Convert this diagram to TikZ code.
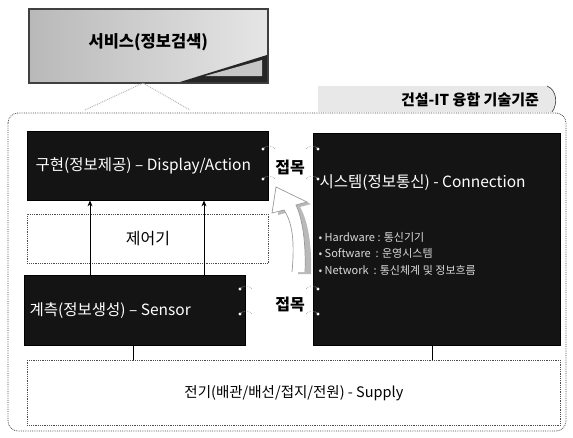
\documentclass[tikz,border=0pt]{standalone}
\usepackage{fontspec}
\setmainfont{Noto Sans CJK KR}
\usetikzlibrary{arrows.meta,shadows}
\begin{document}
\begin{tikzpicture}[x=1pt,y=-1pt,
  blackbox/.style={draw=black, fill=black!92, text=white, inner sep=0pt},
  dashbox/.style={draw=black!70, densely dotted, line width=0.8pt, fill=white, inner sep=0pt},
  lbl/.style={font=\fontsize{14.5}{16}\selectfont},
  blbl/.style={font=\bfseries\fontsize{16}{18}\selectfont},
  wlbl/.style={font=\fontsize{15.5}{17}\selectfont, text=white},
  bul/.style={font=\fontsize{11}{12}\selectfont, text=white!85!black, anchor=west},
  conn/.style={draw=gray!70, densely dotted, line width=0.6pt},
  up/.style={-{Stealth[length=6pt,width=5pt]}, line width=0.9pt},
  vline/.style={line width=0.9pt}
]
\useasboundingbox (0,0) rectangle (573,437);
\fill[white] (0,0) rectangle (573,437);

% service box
\node[draw=black!75, line width=1.6pt, left color=gray!55, right color=gray!20, minimum width=239pt, minimum height=74pt, anchor=north west, inner sep=0pt] (svc) at (28,8) {};
\fill[black!85] (180,82) -- (267,55) -- (267,82) -- cycle;
\fill[gray!45] (205,76) -- (262,60) -- (262,76) -- cycle;
\node[blbl, font=\bfseries\fontsize{16.5}{18}\selectfont] (svct) at ([yshift=4pt]svc.center) {서비스(정보검색)};

% caret
\coordinate (c1) at (85,110);
\coordinate (c2) at (143,83);
\coordinate (c3) at (190,110);
\draw[gray!60, densely dotted, line width=0.9pt] (c1) -- (c2) -- (c3);

% tab
\fill[gray!18] (318,86) -- (547,86) .. controls (557,90) and (558,104) .. (552,112) -- (318,112) -- cycle;
\draw[black!70, line width=0.7pt] (547,86) .. controls (557,90) and (558,104) .. (552,112);
\node[blbl, font=\bfseries\fontsize{15}{17}\selectfont] (tab) at (470,100) {건설-IT 융합 기술기준};

% outer rounded box
\draw[black!70, densely dotted, line width=0.8pt, rounded corners=10pt] (8,113) rectangle (566,431);

% boxes
\node[blackbox, minimum width=241pt, minimum height=69pt, anchor=north west] (disp) at (27,131) {};
\node[wlbl, anchor=west] at ([xshift=5pt]disp.west) {구현(정보제공) – Display/Action};

\node[dashbox, minimum width=241pt, minimum height=49pt, anchor=north west] (ctrl) at (27,214) {};
\node[lbl, font=\fontsize{16}{18}\selectfont] at (ctrl.center) {제어기};

\node[blackbox, minimum width=221pt, minimum height=70pt, anchor=north west] (sens) at (24,275) {};
\node[wlbl, anchor=west] at ([xshift=2pt]sens.west) {계측(정보생성) – Sensor};

\node[blackbox, minimum width=247pt, minimum height=212pt, anchor=north west] (sys) at (313,133) {};
\node[wlbl, anchor=west] (syst) at (316,183) {시스템(정보통신) - Connection};
\node[bul] (b1) at (315,237) {• Hardware : 통신기기};
\node[bul] (b2) at (315,253) {• Software \ : 운영시스템};
\node[bul] (b3) at (315,270) {• Network \ : 통신체계 및 정보흐름};

\node[dashbox, minimum width=533pt, minimum height=65pt, anchor=north west] (sup) at (27,360) {};
\node[lbl] at (sup.center) {전기(배관/배선/접지/전원) - Supply};

% 접목 labels
\node[blbl] (j1) at (290,168) {접목};
\node[blbl] (j2) at (290,305) {접목};

% small connectors
\foreach \y in {149,179} {
  \fill[white] (263,\y) circle (1.6pt);
  \draw[conn] (263,\y) .. controls (268,\y-5) and (272,\y-3) .. (275,\y);
  \fill[white] (318,\y) circle (1.6pt);
  \draw[conn] (318,\y) .. controls (313,\y-5) and (309,\y-3) .. (306,\y);
}
\foreach \y in {289,314} {
  \fill[white] (240,\y) circle (1.6pt);
  \draw[conn] (240,\y) .. controls (245,\y-5) and (249,\y-3) .. (252,\y);
  \fill[white] (318,\y) circle (1.6pt);
  \draw[conn] (318,\y) .. controls (313,\y-5) and (309,\y-3) .. (306,\y);
}

% up arrows
\coordinate (a1) at (90,0);
\coordinate (a2) at (204,0);
\draw[up] (sens.north -| a1) -- (disp.south -| a1);
\draw[up] (sens.north -| a2) -- (disp.south -| a2);

% lines to supply
\coordinate (s1) at (133,0);
\coordinate (s2) at (432,0);
\draw[vline] (sens.south -| s1) -- (sup.north -| s1);
\draw[vline] (sys.south -| s2) -- (sup.north -| s2);

% big curved arrow
\fill[gray!55] (298,274) .. controls (301,240) and (297,222) .. (289,212) -- (278,215) -- (281,190) -- (311,204) -- (300,207) .. controls (308,221) and (312,245) .. (311,274) -- cycle;
\draw[gray!80, fill=white, line width=0.7pt] (292,272) .. controls (295,240) and (292,222) .. (284,210) -- (272,213) -- (276,187) -- (307,202) -- (296,205) .. controls (303,220) and (306,245) .. (305,272);
\end{tikzpicture}
\end{document}
